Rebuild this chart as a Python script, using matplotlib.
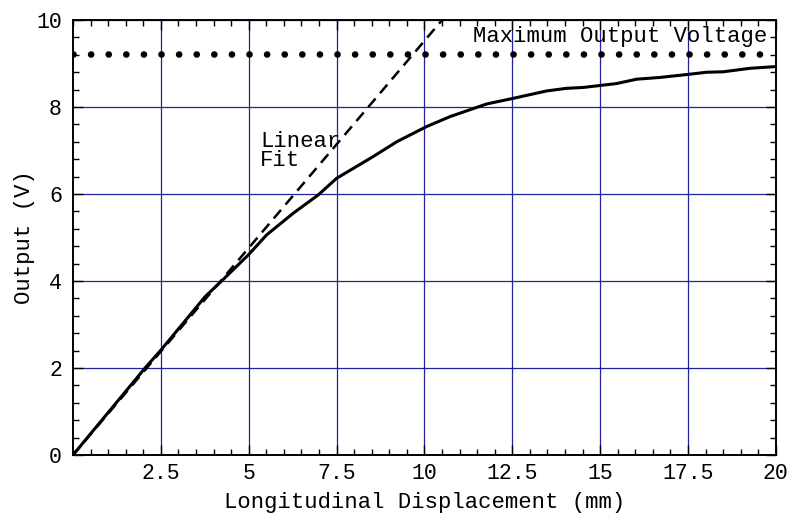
import numpy as np
import matplotlib
matplotlib.use("Agg")
from matplotlib import pyplot as plt
from matplotlib.ticker import MultipleLocator

# measured sensor output vs displacement
disp = [0, 2.05, 2.5, 3.76, 4.28, 4.99, 5.51, 6.27, 6.98, 7.5, 8.54, 9.21,
        10.06, 10.73, 11.77, 12.53, 13.48, 14.04, 14.52, 15.47, 16.04,
        16.7, 17.5, 18.03, 18.5, 19.26, 20.0]
volts = [0, 2.0, 2.41, 3.64, 4.04, 4.6, 5.06, 5.56, 5.98, 6.36, 6.86, 7.2,
         7.55, 7.78, 8.07, 8.2, 8.37, 8.43, 8.45, 8.54, 8.64,
         8.68, 8.75, 8.8, 8.81, 8.89, 8.93]

fit_x = [0, 10.6]
fit_slope = 0.952
v_max = 9.22

font = 'Liberation Mono'
fs_tick = 15.5
fs_lab = 16

fig = plt.figure(figsize=(7.9, 5.14), dpi=100)
ax = fig.add_axes([0.0924, 0.1148, 0.982 - 0.0924, 0.961 - 0.1148])

ax.grid(True, which='major', color='#22229a', lw=0.9, zorder=0)

ax.plot(disp, volts, color='black', lw=2.2, zorder=3)
ax.plot(fit_x, [fit_slope * x for x in fit_x], color='black', lw=1.8,
        dashes=(4.5, 2.8), zorder=3)
# dotted limit line, one dot every 0.5 mm
ax.axhline(v_max, color='black', lw=4.8, linestyle=(0, (0.01, 2.63)),
           dash_capstyle='round', zorder=3)

ax.text(5.32, 7.45, 'Linear\nFit', family=font, fontsize=fs_lab,
        va='top', ha='left', linespacing=0.85)
ax.text(19.75, 9.62, 'Maximum Output Voltage', family=font, fontsize=fs_lab,
        va='center', ha='right')

ax.set_xlim(0, 20)
ax.set_ylim(0, 10)
ax.xaxis.set_minor_locator(MultipleLocator(0.5))
ax.yaxis.set_major_locator(MultipleLocator(2))
ax.yaxis.set_minor_locator(MultipleLocator(0.4))
ax.set_xticks([2.5, 5, 7.5, 10, 12.5, 15, 17.5, 20])
ax.set_xticklabels(['2.5', '5', '7.5', '10', '12.5', '15', '17.5', '20'])

ax.tick_params(which='both', direction='in', top=True, right=True,
               labelsize=fs_tick, width=1.0)
ax.tick_params(which='major', length=7)
ax.tick_params(which='minor', length=4)
ax.tick_params(axis='x', pad=5.5)
ax.tick_params(axis='y', pad=8)
for lab in ax.get_xticklabels() + ax.get_yticklabels():
    lab.set_family(font)
for s in ax.spines.values():
    s.set_linewidth(1.4)

ax.set_xlabel('Longitudinal Displacement (mm)', family=font, fontsize=fs_lab,
              labelpad=6)
ax.set_ylabel('Output (V)', family=font, fontsize=fs_lab, labelpad=1)

fig.savefig('out.png', dpi=100)
